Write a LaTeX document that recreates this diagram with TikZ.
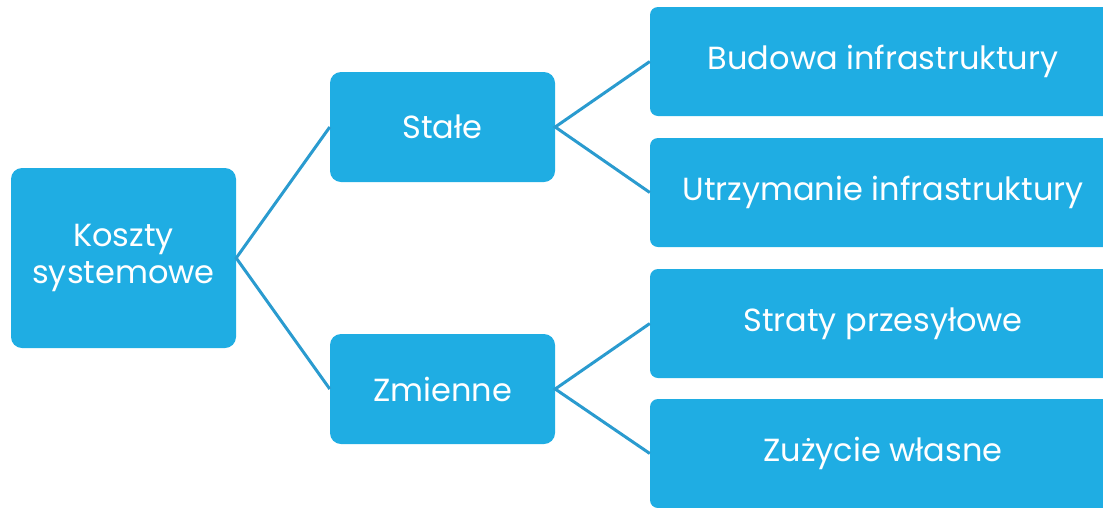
\documentclass[tikz,border=0pt]{standalone}
\usepackage{fontspec}
\setmainfont{Poppins}
\definecolor{boxblue}{HTML}{1FADE3}
\definecolor{lineblue}{HTML}{2A9BCF}
\begin{document}
\begin{tikzpicture}[x=1pt,y=-1pt]
            \tikzset{
                kbox/.style={fill=boxblue,text=white,rounded corners=11pt,inner sep=0pt,
                    align=center,font=\fontsize{32}{37}\selectfont},
                link/.style={draw=lineblue,line width=3pt}}
            \useasboundingbox (0,0) rectangle (1103,507);
            \node[kbox,minimum width=225pt,minimum height=180pt] (koszty) at (123.5,258) {Koszty\\systemowe};
            \node[kbox,minimum width=225pt,minimum height=110pt] (stale) at (442.5,127) {Stałe};
            \node[kbox,minimum width=225pt,minimum height=110pt] (zmienne) at (442.5,389) {Zmienne};
            \begin{scope}[every node/.style={kbox,rounded corners=8pt,minimum width=466pt,minimum height=109pt}]
                \node (budowa) at (883,61.5) {Budowa infrastruktury};
                \node (utrzymanie) at (883,192.5) {Utrzymanie infrastruktury};
                \node (straty) at (883,323.5) {Straty przesyłowe};
                \node (zuzycie) at (883,453.5) {Zużycie własne};
            \end{scope}
            \draw[link] (stale.west) -- (koszty.east) -- (zmienne.west);
            \draw[link] (budowa.west) -- (stale.east) -- (utrzymanie.west);
            \draw[link] (straty.west) -- (zmienne.east) -- (zuzycie.west);
        \end{tikzpicture}
\end{document}
